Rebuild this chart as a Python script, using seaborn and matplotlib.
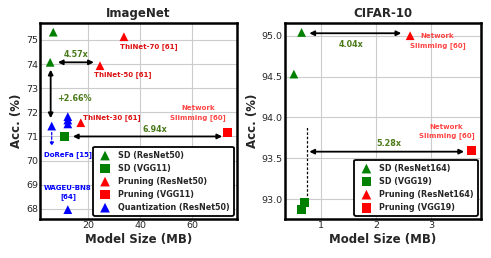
import numpy as np
import pandas as pd
import seaborn as sns
import matplotlib.pyplot as plt

# ImageNet data (model size MB, accuracy %)
in_groups = ["SD (ResNet50)", "SD (VGG11)", "Pruning (ResNet50)", "Pruning (VGG11)", "Quantization (ResNet50)"]
in_size = [[6.6, 5.4], [10.8], [33.8, 24.6, 17.2], [73.7], [6.0, 12.2, 12.2, 12.2, 12.2]]
in_acc = [[75.32, 74.07], [71.0], [75.13, 73.93, 71.57], [71.18], [71.43, 71.82, 71.68, 71.52, 67.97]]

# CIFAR-10 data
cf_groups = ["SD (ResNet164)", "SD (VGG19)", "Pruning (ResNet164)", "Pruning (VGG19)"]
cf_size = [[0.65, 0.51], [0.70, 0.65], [2.62], [3.74]]
cf_acc = [[95.04, 94.53], [92.96, 92.87], [95.0], [93.59]]

colors = ["green", "green", "red", "red", "blue"]
marks = ["^", "s", "^", "s", "^"]

sns.set_style("whitegrid")
plt.rcParams["font.family"] = ["DejaVu Sans"]

fig = plt.figure(figsize=(4.91, 2.58), dpi=100)
ax1 = fig.add_axes([0.0815, 0.151, 0.401, 0.760])
ax2 = fig.add_axes([0.580, 0.151, 0.400, 0.760])


def draw(ax, groups, sizes, accs):
    rows = []
    for g, xs, ys in zip(groups, sizes, accs):
        for x, y in zip(xs, ys):
            rows.append((g, x, y))
    df = pd.DataFrame(rows, columns=["group", "size", "acc"])
    for i, g in enumerate(groups):
        sns.scatterplot(data=df[df.group == g], x="size", y="acc", ax=ax,
                        color=colors[i], marker=marks[i], s=40, edgecolor="none",
                        label=g, zorder=3)


draw(ax1, in_groups, in_size, in_acc)
draw(ax2, cf_groups, cf_size, cf_acc)

ax1.set_xlim(1.5, 77.3)
ax1.set_ylim(67.58, 75.7)
ax1.set_xticks([20, 40, 60])
ax1.set_yticks([68, 69, 70, 71, 72, 73, 74, 75])

ax2.set_xlim(0.345, 3.91)
ax2.set_ylim(92.755, 95.156)
ax2.set_xticks([1, 2, 3])
ax2.set_yticks([93.0, 93.5, 94.0, 94.5, 95.0])
ax2.set_yticklabels(["93.0", "93.5", "94.0", "94.5", "95.0"])

for ax, title in [(ax1, "ImageNet"), (ax2, "CIFAR-10")]:
    ax.set_title(title, fontsize=8.5, fontweight="bold", pad=4)
    ax.set_xlabel("Model Size (MB)", fontsize=8.5, fontweight="bold", labelpad=2)
    ax.set_ylabel("Acc. (%)", fontsize=8.5, fontweight="bold", labelpad=2)
    ax.tick_params(labelsize=6.8, pad=1.5, length=0)
    for sp in ax.spines.values():
        sp.set_edgecolor("black")
        sp.set_linewidth(1.8)
    ax.grid(True, color="#cccccc", linewidth=0.8)
    leg = ax.legend(loc="lower right", prop={"size": 5.8, "weight": "bold"}, frameon=True,
                    scatterpoints=1, handletextpad=0.6, labelspacing=0.5, borderpad=0.5,
                    borderaxespad=0.4, fancybox=True, markerscale=1.1)
    leg.get_frame().set_edgecolor("black")
    leg.get_frame().set_linewidth(1.3)
    leg.get_frame().set_alpha(1)

arrow = dict(arrowstyle="<|-|>", color="black", lw=1.3, mutation_scale=7)
gkw = dict(fontsize=5.8, fontweight="bold", ha="center", va="center", color="#4a7a1a")
tkw = dict(fontsize=5.0, fontweight="bold", ha="center", va="center")

# ImageNet annotations
ax1.annotate("", xy=(23.3, 74.07), xytext=(7.3, 74.07), arrowprops=arrow)
ax1.annotate("", xy=(5.6, 71.64), xytext=(5.6, 73.88), arrowprops=arrow)
ax1.annotate("", xy=(72.7, 71.0), xytext=(13.1, 71.0), arrowprops=arrow)
ax1.annotate("", xy=(6.0, 70.48), xytext=(6.0, 71.28),
             arrowprops=dict(arrowstyle="-|>", color="blue", lw=0.9, ls=(0, (2, 1.5)), mutation_scale=5))
ax1.text(15.2, 74.38, "4.57x", **gkw)
ax1.text(14.6, 72.57, "+2.66%", **gkw)
ax1.text(45.8, 71.27, "6.94x", **gkw)
ax1.text(43.5, 74.72, "ThiNet-70 [61]", color="#dd1111", **tkw)
ax1.text(33.5, 73.55, "ThiNet-50 [61]", color="#dd1111", **tkw)
ax1.text(29.1, 71.78, "ThiNet-30 [61]", color="#dd1111", **tkw)
ax1.text(62.3, 71.98, "Network\nSlimming [60]", color="#ff4444", linespacing=1.5, **tkw)
ax1.text(12.3, 70.25, "DoReFa [15]", color="blue", **tkw)
ax1.text(12.3, 68.68, "WAGEU-BN8\n[64]", color="blue", linespacing=1.5, **tkw)

# CIFAR-10 annotations
ax2.annotate("", xy=(2.51, 95.03), xytext=(0.74, 95.03), arrowprops=arrow)
ax2.annotate("", xy=(3.65, 93.58), xytext=(0.74, 93.58), arrowprops=arrow)
ax2.plot([0.74, 0.74], [92.99, 93.89], color="black", lw=0.9, ls=(0, (2, 1.5)), zorder=2)
ax2.text(1.545, 94.895, "4.04x", **gkw)
ax2.text(2.24, 93.68, "5.28x", **gkw)
ax2.text(3.12, 94.935, "Network\nSlimming [60]", color="#ff4444", linespacing=1.5, **tkw)
ax2.text(3.28, 93.83, "Network\nSlimming [60]", color="#ff4444", linespacing=1.5, **tkw)

fig.savefig("out.png", dpi=100)
